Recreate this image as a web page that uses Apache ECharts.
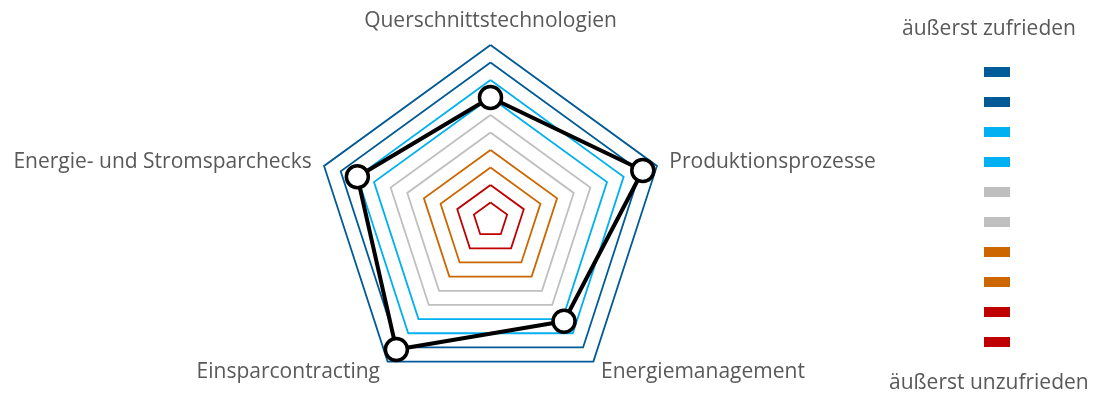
<!DOCTYPE html>
<html>
<head>
<meta charset="utf-8">
<script src="https://cdn.jsdelivr.net/npm/echarts@6/dist/echarts.min.js"></script>
<style>
  html, body { margin: 0; padding: 0; background: #fff; }
  #main { width: 1097px; height: 401px; }
</style>
</head>
<body>
<div id="main"></div>
<script>
  // Achsen (gegen den Uhrzeigersinn, oben beginnend)
  var categories = ['Querschnittstechnologien', 'Energie- und Stromsparchecks', 'Einsparcontracting', 'Energiemanagement', 'Produktionsprozesse'];
  var values = [7.0, 8.0, 9.15, 7.15, 9.15];
  // Ringfarben von innen nach außen
  var ringColors = ['#C00000', '#C00000', '#CC6600', '#CC6600', '#BFBFBF', '#BFBFBF', '#00B0F0', '#00B0F0', '#005A96', '#005A96'];
  var legendTop = 'äußerst zufrieden';
  var legendBottom = 'äußerst unzufrieden';

  var myChart = echarts.init(document.getElementById('main'));

  var txtFont = '21px "Open Sans", sans-serif';
  // Legende rechts: Kästchen von oben (außen) nach unten (innen)
  var graphics = [{
    type: 'text', left: 902, top: 19,
    style: { text: legendTop, fill: '#595959', font: txtFont }
  }, {
    type: 'text', left: 889, top: 373,
    style: { text: legendBottom, fill: '#595959', font: txtFont }
  }];
  ringColors.slice().reverse().forEach(function (c, i) {
    graphics.push({
      type: 'rect', left: 984, top: 67 + i * 30,
      shape: { width: 26, height: 10 },
      style: { fill: c }
    });
  });

  myChart.setOption({
    animation: false,
    radar: {
      center: [490.5, 220],
      radius: 175,
      startAngle: 90,
      shape: 'polygon',
      splitNumber: 10,
      nameGap: 13,
      axisName: {
        color: '#595959',
        fontSize: 21,
        fontFamily: '"Open Sans", sans-serif'
      },
      indicator: categories.map(function (n) { return { name: n, min: 0, max: 10 }; }),
      axisLine: { show: false },
      axisTick: { show: false },
      axisLabel: { show: false },
      splitArea: { show: false },
      splitLine: {
        lineStyle: {
          width: 1.8,
          // Index 0 ist der Mittelpunkt
          color: [ringColors[0]].concat(ringColors)
        }
      }
    },
    graphic: graphics,
    series: [{
      type: 'radar',
      symbol: 'circle',
      symbolSize: 22,
      lineStyle: { color: '#000', width: 4 },
      itemStyle: { color: '#fff', borderColor: '#000', borderWidth: 3.5 },
      data: [{ value: values }]
    }]
  });
</script>
</body>
</html>
